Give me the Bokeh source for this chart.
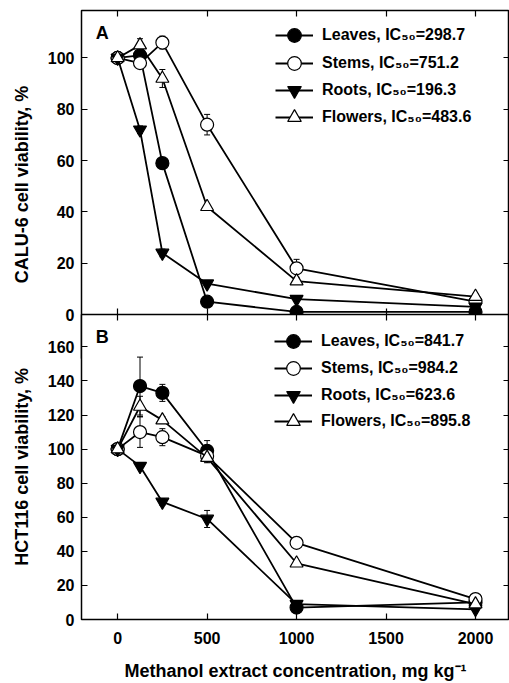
import numpy as np
from bokeh.plotting import figure
from bokeh.models import (ColumnDataSource, Range1d, LinearAxis, FixedTicker, Whisker,
                          TeeHead, Legend, LegendItem, Label, InlineStyleSheet)
from bokeh.layouts import column
from bokeh.embed import file_html
from bokeh.resources import INLINE

# ---------------- data ----------------
conc = [0, 125, 250, 500, 1000, 2000]
x_ticks = [0, 500, 1000, 1500, 2000]

series_names = ["Leaves", "Stems", "Roots", "Flowers"]

# Panel A: CALU-6
calu_leaves = [100, 101, 59, 5, 1, 1]
calu_stems = [100, 98, 106, 74, 18, 5]
calu_roots = [100, 72, 24, 12, 6, 3]
calu_flowers = [100, 105, 92, 42, 13, 7]
calu_leaves_err = [1, 1, 2, 1.5, 0.5, 0.5]
calu_stems_err = [1, 2, 2.5, 4, 3.5, 1]
calu_roots_err = [1, 1.5, 1.5, 1, 0.5, 0.5]
calu_flowers_err = [1, 2.5, 3.5, 1, 1, 1]
calu_ic50 = ["298.7", "751.2", "196.3", "483.6"]
calu_yticks = [0, 20, 40, 60, 80, 100]

# Panel B: HCT116
hct_leaves = [100, 137, 133, 99, 7, 10]
hct_stems = [100, 110, 107, 96, 45, 12]
hct_roots = [100, 90, 69, 59, 9, 6]
hct_flowers = [100, 125, 117, 95, 33, 9]
hct_leaves_err = [2, 17, 5, 6, 1, 2]
hct_stems_err = [2, 9, 5, 3, 2, 2]
hct_roots_err = [1, 2, 2, 5, 1, 1]
hct_flowers_err = [1, 6, 2, 3, 1, 1]
hct_ic50 = ["841.7", "984.2", "623.6", "895.8"]
hct_yticks = [0, 20, 40, 60, 80, 100, 120, 140, 160]

FONT = "Liberation Sans"
markers = ["circle", "circle", "inverted_triangle", "triangle"]
fills = ["black", "white", "black", "white"]

X_RANGE = (-202, 2190)

# ---------------- layout constants (pixels) ----------------
W = 509
LEFT = 81
TOP_FRAME_TOP = 10
PANEL_SPLIT = 314          # boundary between the two panels
BOTTOM_FRAME_BOTTOM = 620
TOP_Y_END = 118.5
BOT_Y_END = 179
TOP_EXT = 44               # top frame extends (hidden) below the split
H1 = TOP_FRAME_TOP + (PANEL_SPLIT - TOP_FRAME_TOP) + TOP_EXT + 2
B2_TOP = 8
H2 = 683 - (PANEL_SPLIT - B2_TOP)
OVERLAP = H1 - (PANEL_SPLIT - B2_TOP)

top_scale = (PANEL_SPLIT - TOP_FRAME_TOP) / TOP_Y_END
top_y_start = -TOP_EXT / top_scale

# legend row centres (page pixels)
top_rows = [35, 62.5, 89.5, 116.5]
bot_rows = [341.7, 369, 396, 422]


def style_axis(ax, ticks, labels=True, tick_out=0):
    ax.ticker = FixedTicker(ticks=ticks)
    ax.major_tick_in = 6
    ax.major_tick_out = tick_out
    ax.minor_tick_line_color = None
    ax.axis_line_color = None
    ax.major_tick_line_color = "black"
    ax.major_tick_line_width = 1.2
    if labels:
        ax.major_label_text_font = FONT
        ax.major_label_text_font_style = "bold"
        ax.major_label_text_font_size = "16px"
        ax.major_label_text_color = "black"
    else:
        ax.major_label_text_font_size = "0px"
        ax.major_label_text_color = None
        ax.major_label_standoff = 0


def style_title(ax, text, standoff):
    ax.axis_label = text
    ax.axis_label_text_font = FONT
    ax.axis_label_text_font_style = "bold"
    ax.axis_label_text_font_size = "18px"
    ax.axis_label_text_color = "black"
    ax.axis_label_standoff = standoff


def add_series(p, values, errs, ic50, row_centers, frame_bottom, legend_x):
    for name, vals, err, mk, fc, ic, yc in zip(series_names, values, errs, markers,
                                               fills, ic50, row_centers):
        v = np.array(vals, dtype=float)
        e = np.array(err, dtype=float)
        src = ColumnDataSource(dict(x=conc, y=v, lo=v - e, hi=v + e))
        wk = Whisker(source=src, base="x", lower="lo", upper="hi", dimension="height",
                     line_color="black", line_width=1, level="underlay",
                     upper_head=TeeHead(size=6, line_color="black", line_width=1),
                     lower_head=TeeHead(size=6, line_color="black", line_width=1))
        p.add_layout(wk)
        lr = p.line("x", "y", source=src, line_color="black", line_width=1.8)
        sr = p.scatter("x", "y", source=src, marker=mk, size=13, fill_color=fc,
                       line_color="black", line_width=1.2)
        leg = Legend(items=[LegendItem(label=f"{name}, IC\u2085\u2080={ic}",
                                       renderers=[lr, sr])],
                     location=(legend_x, frame_bottom - (yc + 17)),
                     glyph_width=38, glyph_height=34, label_height=20, spacing=0,
                     padding=0, margin=0, label_standoff=9,
                     label_text_font=FONT, label_text_font_style="bold",
                     label_text_font_size="16px", label_text_color="black",
                     border_line_color=None, background_fill_alpha=0)
        p.add_layout(leg)


# ---------------- top panel (A) ----------------
p1 = figure(width=W, height=H1, output_backend="svg", toolbar_location=None,
            x_range=Range1d(*X_RANGE), y_range=Range1d(top_y_start, TOP_Y_END),
            x_axis_location="above",
            min_border_left=LEFT, min_border_right=0, min_border_top=TOP_FRAME_TOP,
            min_border_bottom=H1 - PANEL_SPLIT - TOP_EXT)
p1.grid.visible = False
p1.outline_line_color = "black"
p1.outline_line_width = 1.5
p1.border_fill_color = "white"
style_axis(p1.xaxis[0], x_ticks, labels=False)
style_axis(p1.yaxis[0], calu_yticks)
p1.yaxis[0].major_label_standoff = 7
style_title(p1.yaxis[0], "CALU-6 cell viability, %", 13)
ra1 = LinearAxis()
style_axis(ra1, calu_yticks, labels=False)
p1.add_layout(ra1, "right")

add_series(p1, [calu_leaves, calu_stems, calu_roots, calu_flowers],
           [calu_leaves_err, calu_stems_err, calu_roots_err, calu_flowers_err],
           calu_ic50, [y - TOP_FRAME_TOP for y in top_rows],
           PANEL_SPLIT + TOP_EXT - TOP_FRAME_TOP, 194)
p1.add_layout(Label(x=-123, y=113.5, text="A", text_font=FONT, text_font_style="bold",
                    text_font_size="18px", text_baseline="top", text_align="left",
                    text_color="black"))

# ---------------- bottom panel (B) ----------------
p2 = figure(width=W, height=H2, output_backend="svg", toolbar_location=None,
            x_range=Range1d(*X_RANGE), y_range=Range1d(0, BOT_Y_END),
            min_border_left=LEFT, min_border_right=0, min_border_top=B2_TOP,
            min_border_bottom=H2 - B2_TOP - (BOTTOM_FRAME_BOTTOM - PANEL_SPLIT),
            stylesheets=[InlineStyleSheet(css=f":host {{ margin-top: -{OVERLAP}px; }}")])
p2.grid.visible = False
p2.outline_line_color = "black"
p2.outline_line_width = 1.5
p2.border_fill_color = None
p2.background_fill_color = "white"

xa = p2.xaxis[0]
style_axis(xa, x_ticks)
xa.major_label_standoff = 12
style_title(xa, "Methanol extract concentration, mg kg\u207b\u00b9", 14)
style_axis(p2.yaxis[0], hct_yticks)
p2.yaxis[0].major_label_standoff = 7
style_title(p2.yaxis[0], "HCT116 cell viability, %", 13)
ra2 = LinearAxis()
style_axis(ra2, hct_yticks, labels=False)
p2.add_layout(ra2, "right")
ta2 = LinearAxis()
style_axis(ta2, x_ticks, labels=False, tick_out=6)
p2.add_layout(ta2, "above")

add_series(p2, [hct_leaves, hct_stems, hct_roots, hct_flowers],
           [hct_leaves_err, hct_stems_err, hct_roots_err, hct_flowers_err],
           hct_ic50, [y - PANEL_SPLIT for y in bot_rows],
           BOTTOM_FRAME_BOTTOM - PANEL_SPLIT, 193)
p2.add_layout(Label(x=-123, y=171.5, text="B", text_font=FONT, text_font_style="bold",
                    text_font_size="18px", text_baseline="top", text_align="left",
                    text_color="black"))

layout = column(p1, p2, spacing=0)
open("out.html", "w").write(file_html(layout, INLINE))
